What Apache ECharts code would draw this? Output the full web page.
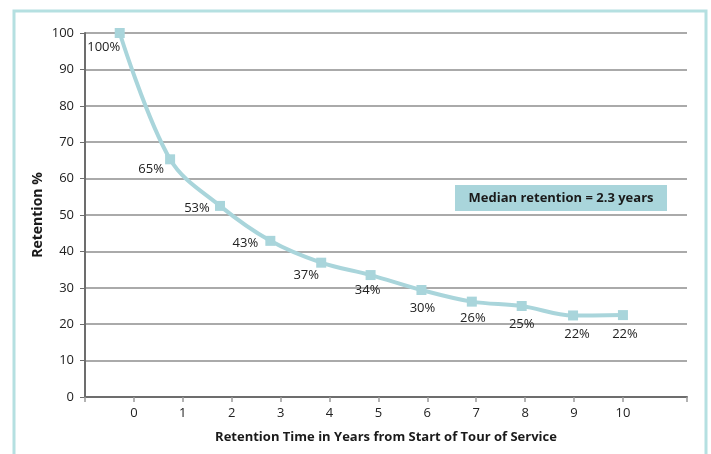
<!DOCTYPE html>
<html>
<head>
<meta charset="utf-8">
<script src="https://cdn.jsdelivr.net/npm/echarts@6/dist/echarts.min.js"></script>
<style>
  html, body { margin: 0; padding: 0; background: #fff; }
  #chart { width: 711px; height: 454px; }
</style>
</head>
<body>
<div id="chart"></div>
<script type="text/javascript">
	// point positions (years, retention %)
	var years = [-0.29, 0.74, 1.76, 2.79, 3.83, 4.84, 5.88, 6.91, 7.93, 8.98, 10.0];
	var retention = [100, 65.3, 52.5, 42.9, 36.9, 33.5, 29.4, 26.2, 25.0, 22.4, 22.5];
	var pointLabels = ['100%', '65%', '53%', '43%', '37%', '34%', '30%', '26%', '25%', '22%', '22%'];
	var xTickLabels = [0, 1, 2, 3, 4, 5, 6, 7, 8, 9, 10];
	var xTickMarks = [-1, 0, 1, 2, 3, 4, 5, 6, 7, 8, 9, 10, 11.31];

	// label offsets, px from each point
	var labelOffsets = [[-16, 14], [-19, 10], [-23, 2], [-25, 2], [-15, 13], [-3, 15],
		[1, 18], [1, 17], [0, 18], [4, 19], [2, 19]];

	var font = '"Open Sans", "Noto Sans", sans-serif';
	var teal = '#a9d5db';

	var seriesData = [];
	for (var i = 0; i < years.length; i++) {
		seriesData.push({
			value: [years[i], retention[i]],
			label: { offset: labelOffsets[i], formatter: pointLabels[i] }
		});
	}

	var myChart = echarts.init(document.getElementById('chart'));
	var option = {
		animation: false,
		grid: { left: 85, right: 24, top: 33, bottom: 57 },
		xAxis: {
			type: 'value',
			min: -1,
			max: 11.31,
			name: 'Retention Time in Years from Start of Tour of Service',
			nameLocation: 'middle',
			nameGap: 34,
			nameTextStyle: { fontFamily: font, fontSize: 13, fontWeight: 'bold', color: '#1a1a1a' },
			axisLine: { onZero: false, lineStyle: { color: '#6d6d6d', width: 2 } },
			axisTick: { show: true, length: 5, customValues: xTickMarks, lineStyle: { color: '#9a9a9a', width: 1.5 } },
			axisLabel: { customValues: xTickLabels, fontFamily: font, fontSize: 13, color: '#222', margin: 10 },
			splitLine: { show: false }
		},
		yAxis: {
			type: 'value',
			min: 0,
			max: 100,
			interval: 10,
			name: 'Retention %',
			nameLocation: 'middle',
			nameGap: 40,
			nameMoveOverlap: false,
			nameTextStyle: { fontFamily: font, fontSize: 14, fontWeight: 'bold', color: '#1a1a1a' },
			axisLine: { show: true, onZero: false, lineStyle: { color: '#6d6d6d', width: 2 } },
			axisTick: { show: true, length: 5, lineStyle: { color: '#6d6d6d', width: 1 } },
			axisLabel: { fontFamily: font, fontSize: 13, color: '#222', margin: 11 },
			splitLine: { lineStyle: { color: '#8e8e8e', width: 1.5 } }
		},
		series: [{
			type: 'line',
			smooth: 0.35,
			data: seriesData,
			symbol: 'rect',
			symbolSize: 10,
			itemStyle: { color: teal },
			lineStyle: { color: teal, width: 4 },
			label: { show: true, position: 'inside', fontFamily: font, fontSize: 13, color: '#222' }
		}],
		graphic: [
			{
				type: 'rect',
				shape: { x: 14, y: 11, width: 692, height: 460 },
				style: { fill: 'none', stroke: '#b5e0e1', lineWidth: 3 },
				silent: true
			},
			{
				type: 'rect',
				shape: { x: 455, y: 185, width: 212, height: 26 },
				style: { fill: teal },
				z: 10
			},
			{
				type: 'text',
				x: 561,
				y: 198,
				style: {
					text: 'Median retention = 2.3 years',
					font: 'bold 13px ' + font,
					fill: '#1a1a1a',
					textAlign: 'center',
					textVerticalAlign: 'middle'
				},
				z: 11
			}
		]
	};
	myChart.setOption(option);
</script>
</body>
</html>
